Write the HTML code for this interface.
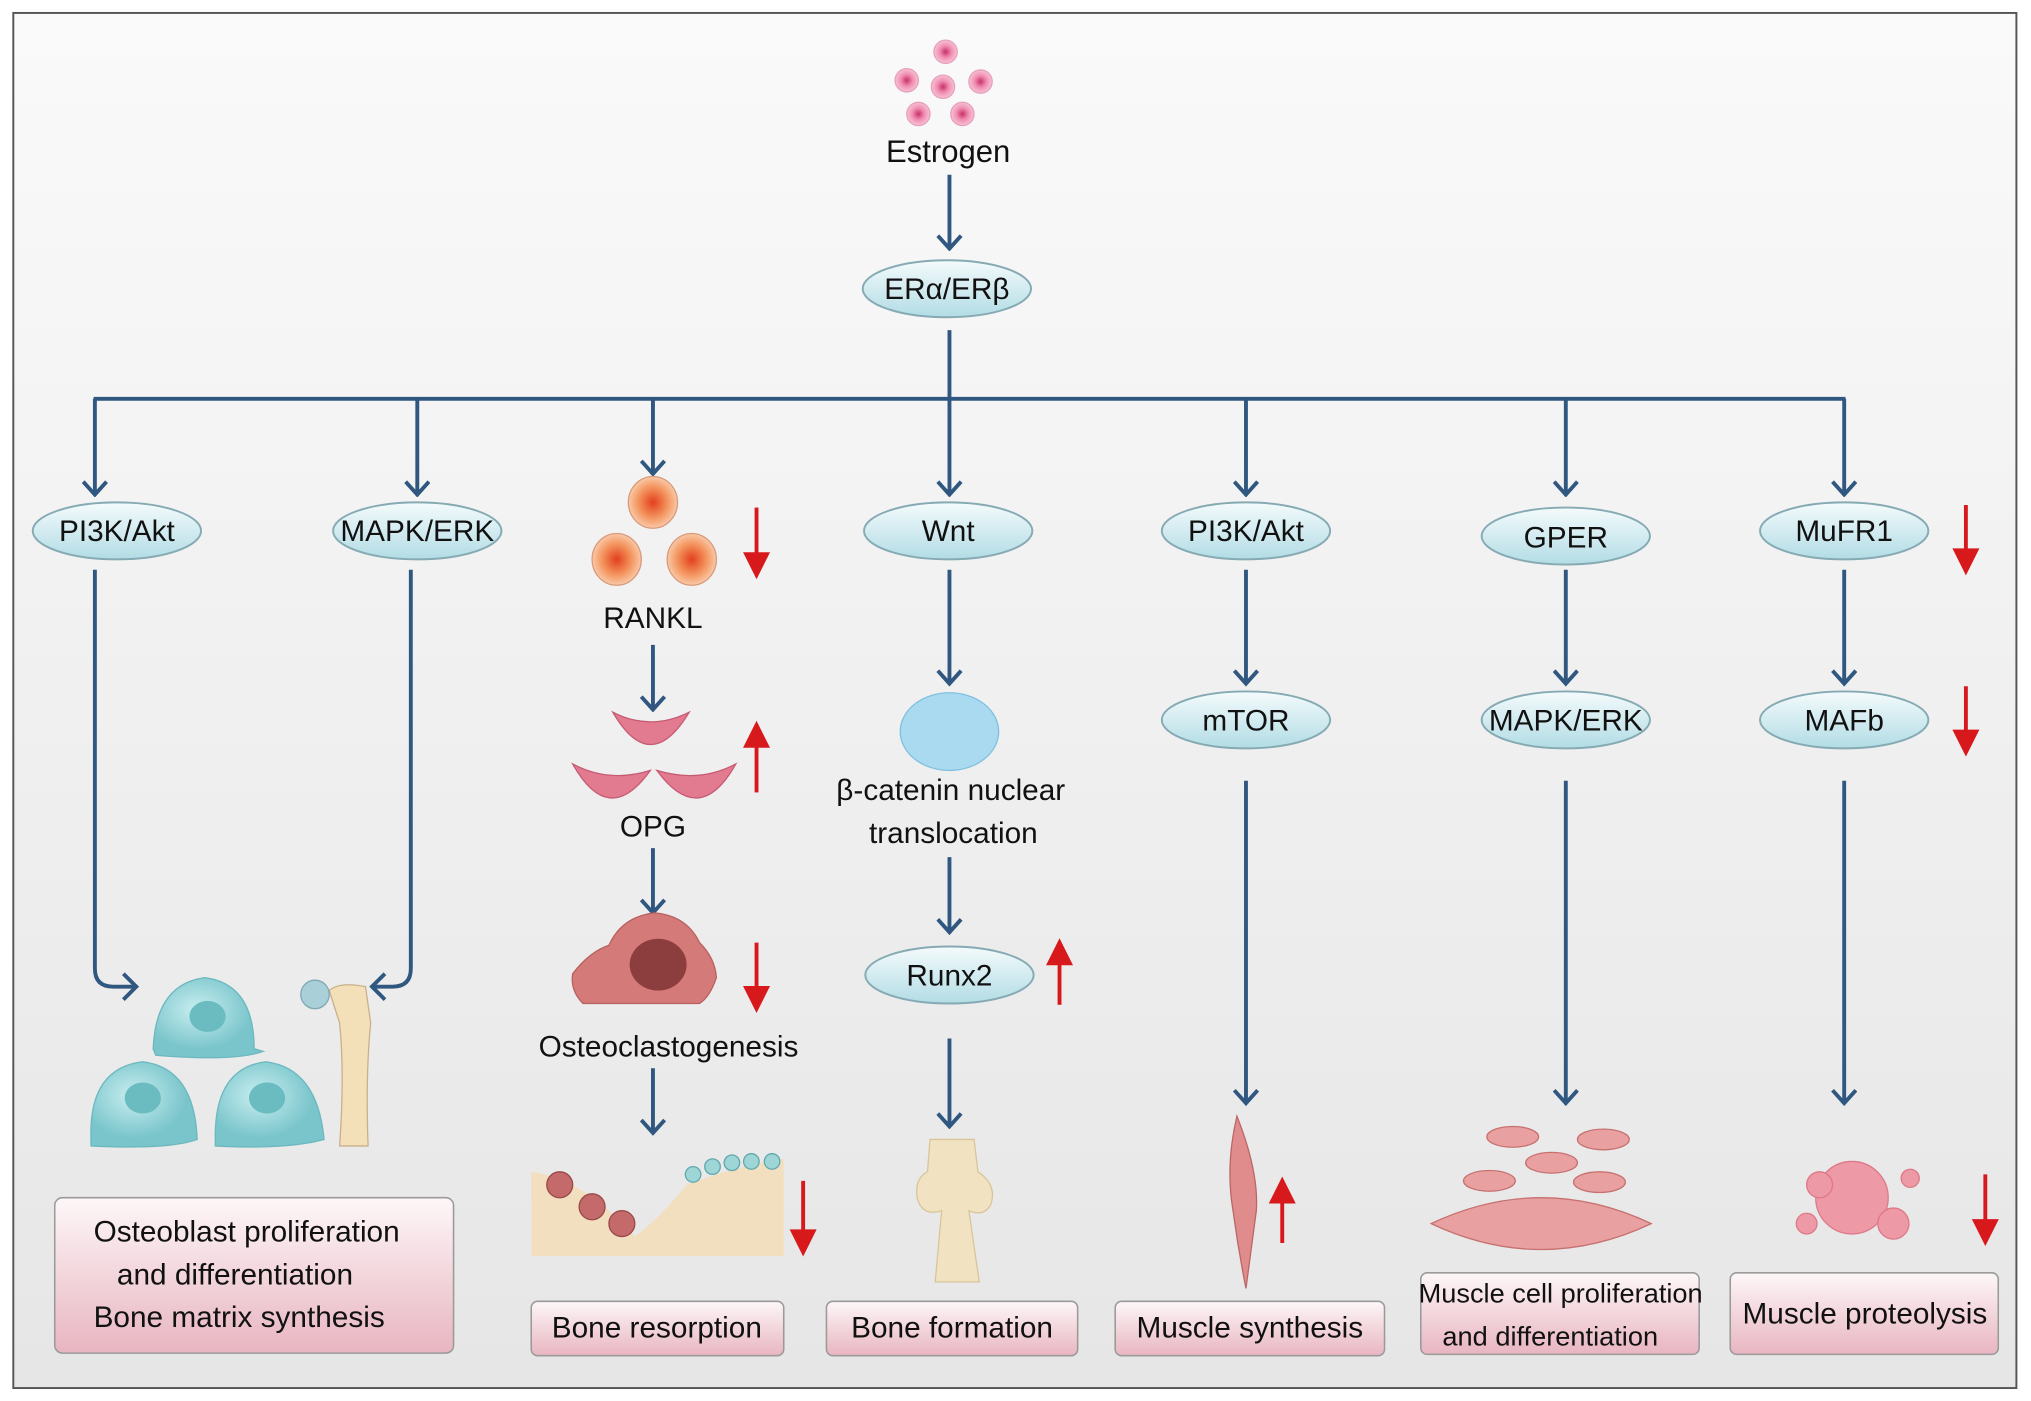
<!DOCTYPE html>
<html><head><meta charset="utf-8"><style>
html,body{margin:0;padding:0;background:#fff;}
svg{display:block;}
text{font-family:"Liberation Sans Narrow","Liberation Sans",sans-serif;fill:#111;}
</style></head><body>
<svg width="2031" height="1401" viewBox="0 0 1568 1082" xmlns="http://www.w3.org/2000/svg">
<defs>
<linearGradient id="bg" x1="0" y1="0" x2="0" y2="1"><stop offset="0" stop-color="#fafafa"/><stop offset="1" stop-color="#e6e6e6"/></linearGradient>
<linearGradient id="ell" x1="0" y1="0" x2="0" y2="1"><stop offset="0" stop-color="#f4fbfc"/><stop offset="1" stop-color="#b2dce5"/></linearGradient>
<linearGradient id="box" x1="0" y1="0" x2="0" y2="1"><stop offset="0" stop-color="#fdf7f8"/><stop offset="1" stop-color="#e8b5c1"/></linearGradient>
<radialGradient id="pink"><stop offset="0" stop-color="#c8306a"/><stop offset="0.5" stop-color="#f08cb0"/><stop offset="1" stop-color="#f7c3d6"/></radialGradient>
<radialGradient id="org"><stop offset="0" stop-color="#e2401c"/><stop offset="0.6" stop-color="#f4955f"/><stop offset="1" stop-color="#f9c9a8"/></radialGradient>
<radialGradient id="cyan" cx="0.4" cy="0.4"><stop offset="0" stop-color="#c9eef0"/><stop offset="1" stop-color="#79c5cb"/></radialGradient>
<marker id="ah" viewBox="0 0 20 20" refX="18" refY="10" markerWidth="20" markerHeight="20" markerUnits="userSpaceOnUse" orient="auto"><path d="M8 1 L18 10 L8 19" fill="none" stroke="#2f5780" stroke-width="3"/></marker>
</defs>
<rect x="0" y="0" width="1568" height="1082" fill="#fff"/>
<rect x="10" y="10" width="1547" height="1062" fill="url(#bg)" stroke="#555" stroke-width="1.5"/>

<g fill="url(#pink)" stroke="#e7a0bc" stroke-width="1">
<circle cx="730" cy="40" r="9"/><circle cx="700" cy="62" r="9"/><circle cx="728" cy="67" r="9"/><circle cx="757" cy="63" r="9"/><circle cx="709" cy="88" r="9"/><circle cx="743" cy="88" r="9"/>
</g>
<text x="732" y="125" font-size="24" text-anchor="middle">Estrogen</text>

<g stroke="#2f5780" stroke-width="3" fill="none">
<line x1="733" y1="135" x2="733" y2="192" marker-end="url(#ah)"/>
<line x1="733" y1="255" x2="733" y2="308"/>
<line x1="72" y1="308" x2="1425" y2="308"/>
<line x1="73" y1="308" x2="73" y2="382" marker-end="url(#ah)"/>
<line x1="322" y1="308" x2="322" y2="382" marker-end="url(#ah)"/>
<line x1="504" y1="308" x2="504" y2="366" marker-end="url(#ah)"/>
<line x1="733" y1="308" x2="733" y2="382" marker-end="url(#ah)"/>
<line x1="962" y1="308" x2="962" y2="382" marker-end="url(#ah)"/>
<line x1="1209" y1="308" x2="1209" y2="382" marker-end="url(#ah)"/>
<line x1="1424" y1="308" x2="1424" y2="382" marker-end="url(#ah)"/>
<path d="M73 440 V748 Q73 762 87 762 H105"/><path d="M95 752 L105 762 L95 772"/>
<path d="M317 440 V748 Q317 762 303 762 H287"/><path d="M297 752 L287 762 L297 772"/>
<line x1="504" y1="498" x2="504" y2="548" marker-end="url(#ah)"/>
<line x1="504" y1="655" x2="504" y2="705" marker-end="url(#ah)"/>
<line x1="504" y1="825" x2="504" y2="875" marker-end="url(#ah)"/>
<line x1="733" y1="440" x2="733" y2="528" marker-end="url(#ah)"/>
<line x1="733" y1="662" x2="733" y2="720" marker-end="url(#ah)"/>
<line x1="733" y1="802" x2="733" y2="870" marker-end="url(#ah)"/>
<line x1="962" y1="440" x2="962" y2="528" marker-end="url(#ah)"/>
<line x1="962" y1="603" x2="962" y2="852" marker-end="url(#ah)"/>
<line x1="1209" y1="440" x2="1209" y2="528" marker-end="url(#ah)"/>
<line x1="1209" y1="603" x2="1209" y2="852" marker-end="url(#ah)"/>
<line x1="1424" y1="440" x2="1424" y2="528" marker-end="url(#ah)"/>
<line x1="1424" y1="603" x2="1424" y2="852" marker-end="url(#ah)"/>
</g>

<g fill="url(#ell)" stroke="#86aab3" stroke-width="1.5">
<ellipse cx="731" cy="223" rx="65" ry="22"/>
<ellipse cx="90" cy="410" rx="65" ry="22"/>
<ellipse cx="322" cy="410" rx="65" ry="22"/>
<ellipse cx="732" cy="410" rx="65" ry="22"/>
<ellipse cx="962" cy="410" rx="65" ry="22"/>
<ellipse cx="1209" cy="414" rx="65" ry="22"/>
<ellipse cx="1424" cy="410" rx="65" ry="22"/>
<ellipse cx="962" cy="556" rx="65" ry="22"/>
<ellipse cx="1209" cy="556" rx="65" ry="22"/>
<ellipse cx="1424" cy="556" rx="65" ry="22"/>
<ellipse cx="733" cy="753" rx="65" ry="22"/>
</g>
<g font-size="23" text-anchor="middle">
<text x="731" y="231">ERα/ERβ</text>
<text x="90" y="418">PI3K/Akt</text>
<text x="322" y="418">MAPK/ERK</text>
<text x="732" y="418">Wnt</text>
<text x="962" y="418">PI3K/Akt</text>
<text x="1209" y="423">GPER</text>
<text x="1424" y="418">MuFR1</text>
<text x="962" y="564">mTOR</text>
<text x="1209" y="564">MAPK/ERK</text>
<text x="1424" y="564">MAFb</text>
<text x="733" y="761">Runx2</text>
<text x="504" y="485">RANKL</text>
<text x="504" y="646">OPG</text>
<text x="516" y="816">Osteoclastogenesis</text>
<text x="734" y="618">β-catenin nuclear</text>
<text x="736" y="651">translocation</text>
</g>

<g fill="url(#org)" stroke="#d89a7a" stroke-width="1"><ellipse cx="504" cy="388" rx="19" ry="20"/><ellipse cx="476" cy="432" rx="19" ry="20"/><ellipse cx="534" cy="432" rx="19" ry="20"/></g>
<g fill="#e27a90" stroke="#c65a72" stroke-width="1">
<path d="M473 550 Q502 600 532 550 Q502 565 473 550Z"/>
<path d="M442 590 Q470 640 502 595 Q470 605 442 590Z"/>
<path d="M507 595 Q540 640 568 590 Q540 605 507 595Z"/>
</g>
<path d="M442 752 Q455 735 470 730 Q480 708 505 705 Q530 707 540 728 Q552 740 553 755 Q548 770 540 775 L450 775 Q440 765 442 752Z" fill="#d47a78" stroke="#b86060"/>
<ellipse cx="508" cy="745" rx="22" ry="20" fill="#8c3e3e"/>
<path d="M410 905 Q450 910 490 955 Q510 940 530 915 Q570 900 605 895 L605 970 L410 970Z" fill="#f2dfc0"/>
<g fill="#c46a6a" stroke="#9a4848"><circle cx="432" cy="915" r="10"/><circle cx="457" cy="932" r="10"/><circle cx="480" cy="945" r="10"/></g>
<g fill="#9ed5d6" stroke="#5fa8ab"><circle cx="535" cy="907" r="6"/><circle cx="550" cy="901" r="6"/><circle cx="565" cy="898" r="6"/><circle cx="580" cy="897" r="6"/><circle cx="596" cy="897" r="6"/></g>
<g fill="url(#cyan)" stroke="#6bb8bf">
<path d="M118 810 Q120 760 158 755 Q196 760 196 810 L203 812 Q180 820 120 815Z"/>
<path d="M70 880 Q68 825 110 820 Q150 825 152 880 Q130 888 70 885Z"/>
<path d="M166 880 Q165 825 205 820 Q245 825 250 880 Q220 888 166 885Z"/>
</g>
<g fill="#6bbcc1"><ellipse cx="160" cy="785" rx="14" ry="12"/><ellipse cx="110" cy="848" rx="14" ry="12"/><ellipse cx="206" cy="848" rx="14" ry="12"/></g>
<path d="M254 765 Q262 758 282 762 L286 790 Q282 830 284 885 L262 885 Q266 830 262 790Z" fill="#f3dfb8" stroke="#c9b08a"/>
<circle cx="243" cy="768" r="11" fill="#a9cfd8" stroke="#7fa9b4"/>
<ellipse cx="733" cy="565" rx="38" ry="30" fill="#a9daf0" stroke="#7fc0e0"/>
<path d="M718 880 L752 880 L755 905 Q770 915 765 930 Q760 940 748 935 L756 990 L722 990 L727 935 Q712 940 708 925 Q706 910 716 905Z" fill="#f1e2c1" stroke="#d9c59a"/>
<path d="M955 862 Q972 905 970 935 Q966 965 962 995 Q956 965 952 935 Q946 900 955 862Z" fill="#e08c8c" stroke="#b66"/>
<g fill="#e9a0a0" stroke="#c77070">
<ellipse cx="1168" cy="878" rx="20" ry="8"/><ellipse cx="1238" cy="880" rx="20" ry="8"/><ellipse cx="1198" cy="898" rx="20" ry="8"/><ellipse cx="1150" cy="912" rx="20" ry="8"/><ellipse cx="1235" cy="913" rx="20" ry="8"/>
<path d="M1105 945 Q1190 905 1275 945 Q1190 985 1105 945Z"/>
</g>
<g fill="#ee9aa6" stroke="#dd7888"><circle cx="1430" cy="925" r="28"/><circle cx="1405" cy="915" r="10"/><circle cx="1462" cy="945" r="12"/><circle cx="1395" cy="945" r="8"/><circle cx="1475" cy="910" r="7"/></g>

<g stroke="#d7191c" stroke-width="3" fill="#d7191c">
<line x1="584" y1="392" x2="584" y2="430"/><path d="M576 428 L584 444 L592 428Z"/>
<line x1="584" y1="612" x2="584" y2="574"/><path d="M576 576 L584 560 L592 576Z"/>
<line x1="584" y1="728" x2="584" y2="765"/><path d="M576 763 L584 779 L592 763Z"/>
<line x1="620" y1="912" x2="620" y2="953"/><path d="M612 951 L620 967 L628 951Z"/>
<line x1="818" y1="776" x2="818" y2="742"/><path d="M810 744 L818 728 L826 744Z"/>
<line x1="990" y1="960" x2="990" y2="926"/><path d="M982 928 L990 912 L998 928Z"/>
<line x1="1518" y1="390" x2="1518" y2="427"/><path d="M1510 425 L1518 441 L1526 425Z"/>
<line x1="1518" y1="530" x2="1518" y2="567"/><path d="M1510 565 L1518 581 L1526 565Z"/>
<line x1="1533" y1="907" x2="1533" y2="945"/><path d="M1525 943 L1533 959 L1541 943Z"/>
</g>

<g fill="url(#box)" stroke="#9a9a9a" stroke-width="1.2">
<rect x="42" y="925" width="308" height="120" rx="6"/>
<rect x="410" y="1005" width="195" height="42" rx="5"/>
<rect x="638" y="1005" width="194" height="42" rx="5"/>
<rect x="861" y="1005" width="208" height="42" rx="5"/>
<rect x="1097" y="983" width="215" height="63" rx="5"/>
<rect x="1336" y="983" width="207" height="63" rx="5"/>
</g>
<g font-size="23">
<text x="72" y="959">Osteoblast proliferation</text>
<text x="90" y="992">and differentiation</text>
<text x="72" y="1025">Bone matrix synthesis</text>
</g>
<g font-size="23" text-anchor="middle">
<text x="507" y="1033">Bone resorption</text>
<text x="735" y="1033">Bone formation</text>
<text x="965" y="1033">Muscle synthesis</text>
<text x="1205" y="1006" font-size="21">Muscle cell proliferation</text>
<text x="1197" y="1039" font-size="21">and differentiation</text>
<text x="1440" y="1022">Muscle proteolysis</text>
</g>
</svg>
</body></html>
